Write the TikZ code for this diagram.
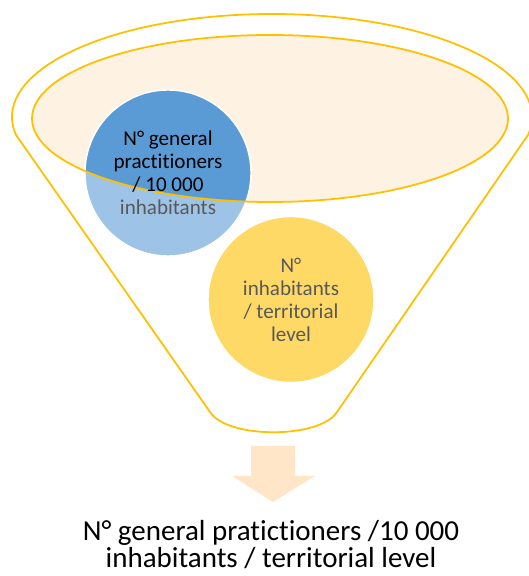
\documentclass[tikz,border=0pt]{standalone}
\usepackage{fontspec}
\setmainfont{Carlito}[RawFeature=-liga]
\usetikzlibrary{positioning, calc}
\definecolor{funnelgold}{HTML}{FFC000}
\definecolor{rimfill}{HTML}{FEF3E3}
\definecolor{darkblue}{HTML}{5B9BD5}
\definecolor{lightblue}{HTML}{9DC3E6}
\definecolor{sunyellow}{HTML}{FFD966}
\definecolor{arrowpeach}{HTML}{FFE6C9}
\definecolor{textgrey}{HTML}{595959}

\begin{document}
\begin{tikzpicture}[
  funnelline/.style={draw=funnelgold, line width=1pt},
  bubble/.style={circle, draw=white, line width=0.8pt, minimum size=3.32cm, inner sep=0pt},
  bubbletext/.style={align=center, font=\fontsize{12}{13.1}\selectfont},
  result/.style={align=center, font=\fontsize{16.5}{15.4}\selectfont}
]
  \useasboundingbox (0,0) rectangle (10.56,11.52);

  % funnel body
  \coordinate (top) at (5.44,9.18);
  \draw[funnelline, fill=white] ($(top)+(190:5.2 and 2.06)$)
    arc[start angle=190, end angle=-10, x radius=5.2, y radius=2.06]
    -- (6.74,3.28) .. controls (6.40,2.74) and (4.54,2.74) .. (4.20,3.28) -- cycle;

  % rim of the funnel
  \coordinate (rim) at (5.40,9.15);
  \fill[rimfill] (rim) ellipse[x radius=4.76, y radius=1.67];

  % blue bubble, darker where it sits in the rim
  \node[bubble, fill=lightblue] (gpbubble) at (3.36,8.06) {};
  \begin{scope}
    \clip (rim) ellipse[x radius=4.76, y radius=1.67];
    \filldraw[fill=darkblue, draw=white, line width=0.8pt] (gpbubble.center) circle[radius=1.66];
  \end{scope}
  \draw[funnelline] (rim) ellipse[x radius=4.76, y radius=1.67];
  \node[bubbletext] (gp) at (gpbubble) {N° general\\practitioners\\/ 10 000\\\textcolor{textgrey}{inhabitants}};

  % yellow bubble
  \node[bubble, bubbletext, fill=sunyellow, text=textgrey] (inh) at (5.82,5.53) {N°\\inhabitants\\/ territorial\\level};

  % block arrow out of the funnel
  \fill[arrowpeach] (5.02,2.60) -- (5.90,2.60) -- (5.90,2.00) -- (6.30,2.00)
    -- (5.46,1.48) -- (4.64,2.00) -- (5.02,2.00) -- cycle;

  \node[result] (summary) at (5.42,0.62) {N° general pratictioners /10 000\\inhabitants / territorial level};
\end{tikzpicture}
\end{document}
